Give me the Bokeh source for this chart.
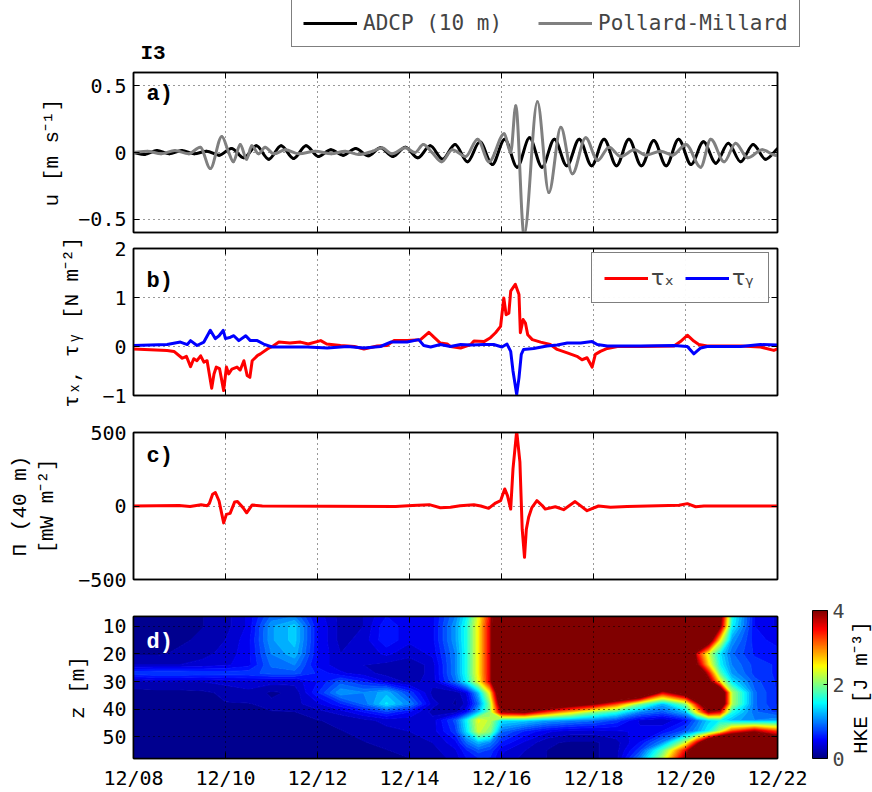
import numpy as np
from bokeh.plotting import figure
from bokeh.layouts import column, row
from bokeh.models import (Range1d, FixedTicker, LinearAxis, Label, Legend, LegendItem,
                          ColorBar, LinearColorMapper)
from bokeh.embed import file_html
from bokeh.resources import INLINE

# ---------------- data ----------------
# time axis: days since 12/08 00:00
date_ticks = [0, 2, 4, 6, 8, 10, 12, 14]
date_labels = ["12/08", "12/10", "12/12", "12/14", "12/16", "12/18", "12/20", "12/22"]

# panel a: u [m s-1]
adcp_t = [0.0, 0.24, 0.51, 0.78, 1.05, 1.32, 1.59, 1.86, 2.13, 2.40,
          2.67, 2.94, 3.21, 3.48, 3.75, 4.02, 4.29, 4.56, 4.83, 5.10,
          5.37, 5.64, 5.91, 6.18, 6.45, 6.72, 6.99, 7.26, 7.53, 7.80,
          8.07, 8.34, 8.61, 8.88, 9.15, 9.42, 9.69, 9.96, 10.23, 10.50,
          10.77, 11.04, 11.31, 11.58, 11.85, 12.12, 12.39, 12.66, 12.93, 13.20,
          13.47, 13.74, 14.0]
adcp_u = [0.0, -0.015, 0.015, -0.01, 0.015, -0.01, 0.01, -0.02, 0.03, -0.04,
          0.05, -0.05, 0.05, -0.045, 0.05, -0.03, 0.02, -0.02, 0.03, -0.025,
          0.035, -0.03, 0.04, -0.04, 0.05, -0.05, 0.06, -0.07, 0.08, -0.09,
          0.10, -0.11, 0.11, -0.11, 0.10, -0.10, 0.10, -0.10, 0.10, -0.10,
          0.10, -0.10, 0.09, -0.10, 0.10, -0.09, 0.08, -0.08, 0.07, -0.07,
          0.06, -0.05, 0.03]
pm_t = [0.0, 0.3, 0.6, 0.9, 1.2, 1.45, 1.67, 1.92, 2.07, 2.17,
        2.32, 2.46, 2.57, 2.72, 2.86, 3.05, 3.3, 3.6, 3.95, 4.3,
        4.6, 4.9, 5.2, 5.4, 5.62, 5.91, 6.12, 6.30, 6.49, 6.70,
        6.93, 7.22, 7.48, 7.73, 8.06, 8.20, 8.31, 8.49, 8.78, 9.03,
        9.29, 9.54, 9.83, 10.09, 10.34, 10.59, 10.89, 11.14, 11.46, 11.72,
        12.01, 12.33, 12.55, 12.84, 13.09, 13.35, 13.67, 13.96, 14.0]
pm_u = [0.0, 0.01, -0.01, 0.015, -0.01, 0.04, -0.12, 0.12, 0.0, -0.07,
        0.06, -0.05, 0.05, -0.01, 0.04, -0.01, 0.02, -0.01, 0.01, -0.01,
        0.01, -0.015, 0.01, 0.035, -0.01, 0.035, 0.0, 0.06, 0.0, -0.07,
        0.02, -0.03, 0.10, -0.07, 0.14, 0.0, 0.35, -0.62, 0.38, -0.30,
        0.19, -0.16, 0.11, -0.06, 0.04, -0.03, 0.02, -0.02, 0.01, -0.02,
        0.06, -0.11, 0.10, -0.07, 0.07, -0.04, 0.02, -0.02, -0.02]

# panel b: wind stress [N m-2]
taux_t = [0.0, 0.73, 0.88, 1.06, 1.15, 1.24, 1.31, 1.38, 1.46, 1.53,
          1.60, 1.70, 1.75, 1.80, 1.87, 1.96, 2.02, 2.07, 2.14, 2.25,
          2.32, 2.40, 2.47, 2.53, 2.58, 2.70, 2.76, 2.91, 3.05, 3.16,
          3.40, 3.63, 3.80, 4.07, 4.20, 4.50, 4.80, 5.01, 5.30, 5.51,
          5.66, 5.95, 6.24, 6.42, 6.53, 6.67, 6.82, 6.89, 7.11, 7.33,
          7.40, 7.62, 7.76, 7.87, 7.98, 8.05, 8.10, 8.16, 8.20, 8.30,
          8.38, 8.41, 8.47, 8.52, 8.57, 8.67, 8.85, 9.06, 9.21, 9.43,
          9.64, 9.75, 9.86, 9.97, 10.04, 10.15, 10.30, 10.52, 11.02, 11.75,
          11.89, 12.04, 12.18, 12.29, 12.47, 13.20, 13.63, 13.92, 14.0]
taux = [-0.05, -0.08, -0.10, -0.24, -0.20, -0.41, -0.25, -0.29, -0.19, -0.32,
        -0.29, -0.85, -0.56, -0.42, -0.45, -0.90, -0.42, -0.56, -0.46, -0.42,
        -0.48, -0.29, -0.59, -0.63, -0.29, -0.18, -0.15, -0.05, 0.02, 0.09,
        0.07, 0.09, 0.05, 0.12, 0.05, 0.02, 0.0, -0.05, 0.01, 0.02,
        0.12, 0.12, 0.14, 0.29, 0.19, 0.07, 0.05, 0.0, -0.03, 0.04,
        0.11, 0.10, 0.18, 0.28, 0.41, 0.99, 0.65, 0.68, 1.13, 1.27,
        1.06, 0.28, 0.55, 0.48, 0.24, 0.14, 0.09, 0.04, -0.06, -0.13,
        -0.20, -0.27, -0.23, -0.42, -0.16, -0.10, -0.04, 0.0, 0.0, 0.01,
        0.10, 0.23, 0.11, 0.04, 0.01, 0.01, -0.01, -0.08, -0.05]
tauy_t = [0.0, 0.73, 1.02, 1.17, 1.24, 1.38, 1.53, 1.67, 1.78, 1.86,
          1.95, 2.00, 2.11, 2.18, 2.29, 2.44, 2.54, 2.69, 2.83, 3.01,
          3.34, 3.78, 4.21, 4.65, 5.01, 5.37, 5.59, 5.95, 6.20, 6.31,
          6.46, 6.67, 6.89, 7.11, 7.33, 7.62, 7.83, 8.01, 8.12, 8.20,
          8.25, 8.33, 8.38, 8.43, 8.48, 8.70, 8.99, 9.21, 9.43, 9.72,
          9.97, 10.08, 10.30, 11.02, 11.75, 12.04, 12.18, 12.33, 12.47, 13.20,
          13.63, 14.0]
tauy = [0.02, 0.04, 0.09, 0.04, 0.12, 0.02, 0.09, 0.33, 0.16, 0.22,
        0.33, 0.16, 0.19, 0.22, 0.12, 0.22, 0.12, 0.12, 0.05, -0.01,
        -0.01, -0.01, -0.03, 0.0, -0.03, 0.0, 0.09, 0.09, 0.14, 0.02,
        -0.01, 0.04, 0.0, 0.04, 0.03, 0.04, 0.04, -0.01, 0.05, -0.10,
        -0.50, -0.98, -0.64, -0.16, -0.06, -0.04, 0.01, 0.03, 0.07, 0.07,
        0.10, 0.04, 0.01, 0.01, 0.02, 0.0, -0.15, -0.03, 0.0, 0.0,
        0.04, 0.03]

# panel c: wind work Pi (40 m) [mW m-2]
pi_t = [0.0, 0.99, 1.23, 1.47, 1.60, 1.65, 1.72, 1.78, 1.86, 1.96,
        2.02, 2.10, 2.20, 2.26, 2.38, 2.46, 2.58, 2.80, 5.70, 6.06,
        6.43, 6.67, 6.89, 7.10, 7.40, 7.55, 7.72, 7.87, 7.98, 8.07,
        8.13, 8.20, 8.25, 8.33, 8.40, 8.45, 8.50, 8.54, 8.59, 8.66,
        8.77, 8.88, 8.95, 9.17, 9.35, 9.60, 9.86, 10.11, 10.37, 10.73,
        11.86, 12.04, 12.22, 12.40, 14.0]
pi_val = [0, 3, -4, 8, 2, 18, 80, 92, 34, -115,
          -57, -50, 28, 30, -11, -46, 7, 0, -4, 4,
          9, -12, -8, 2, 8, 0, -16, 20, 36, 116,
          71, -21, 253, 510, 300, -158, -349, -158, -76, -11,
          36, 5, -21, -5, -25, 30, -32, 0, -8, -4,
          5, 16, -5, 0, 0]

# panel d: HKE [J m-3] on (depth, time) grid
hke_t = [0, 0.5, 1, 1.5, 2, 2.5, 3, 3.5, 4, 4.5, 5, 5.5, 6, 6.5, 7, 7.25, 7.5, 7.75,
         8, 8.5, 9, 9.5, 10, 10.5, 11, 11.5, 12, 12.25, 12.5, 12.75, 13, 13.5, 14]
hke_z = [6.5, 10, 15, 20, 24, 27, 30, 34, 38, 41, 44, 48, 52, 55, 58]
hke_z06 = [0.05,0.05,0.08,0.12,0.2,0.4,0.9,1.0,0.45,0.2, 0.25,0.5,0.4,0.45,1.0,1.5,2.4,3.5,6,6, 6,6,6,6,6,6,6,6,6,4.2, 1.6,0.5,0.35]
hke_z10 = [0.05,0.05,0.08,0.12,0.2,0.4,1.1,1.3,0.5,0.2, 0.25,0.6,0.4,0.45,1.1,1.6,2.5,3.6,6,6, 6,6,6,6,6,6,6,6,6,4.0, 1.5,0.5,0.35]
hke_z15 = [0.06,0.06,0.1,0.15,0.25,0.45,1.1,1.3,0.5,0.2, 0.3,0.6,0.4,0.45,1.1,1.6,2.5,3.6,6,6, 6,6,6,6,6,6,6,6,4.5,2.5, 1.1,0.55,0.45]
hke_z20 = [0.1,0.1,0.15,0.2,0.3,0.45,1.0,1.2,0.5,0.25, 0.3,0.4,0.3,0.4,1.0,1.6,2.5,3.6,6,6, 6,6,6,6,6,6,6,3.5,2.3,1.4, 0.9,0.6,0.55]
hke_z24 = [0.25,0.25,0.25,0.3,0.35,0.45,0.9,1.0,0.45,0.3, 0.25,0.2,0.15,0.3,1.0,1.6,2.5,3.6,6,6, 6,6,6,6,6,6,6,4.0,2.6,1.5, 1.0,0.7,0.6]
hke_z27 = [0.7,0.75,0.75,0.7,0.7,0.7,0.8,0.8,0.6,0.4, 0.3,0.2,0.15,0.3,1.0,1.6,2.5,3.6,6,6, 6,6,6,6,6,6,6,5.0,3.5,1.8, 1.1,0.7,0.6]
hke_z30 = [0.2,0.25,0.25,0.25,0.3,0.35,0.3,0.3,0.5,0.8, 0.6,0.35,0.2,0.3,0.9,1.5,2.4,3.6,6,6, 6,6,6,6,6,6,6,6,4.2,2.5, 1.4,0.8,0.6]
hke_z34 = [0.08,0.08,0.08,0.1,0.15,0.2,0.1,0.15,0.6,1.1, 1.0,1.2,0.7,0.2,0.15,0.4,1.2,2.5,5,6, 6,6,6,6,5.5,3.5,4.5,6,6,5, 2.2,0.9,0.6]
hke_z38 = [0.05,0.05,0.08,0.08,0.12,0.12,0.15,0.2,0.35,0.6, 0.9,1.4,1.0,0.3,0.1,0.3,0.9,2.0,4.5,5.5, 5,4.5,4,3.2,2.0,1.2,2.0,3.5,5,5, 2.2,0.9,0.6]
hke_z41 = [0.05,0.05,0.05,0.08,0.08,0.12,0.12,0.12,0.2,0.3, 0.5,0.7,0.5,0.2,0.2,0.5,1.2,2.0,3.8,4.0, 3.2,2.6,2.0,1.6,1.0,0.8,1.2,2.5,3.8,3.5, 1.6,0.9,0.7]
hke_z44 = [0.05,0.05,0.05,0.05,0.08,0.08,0.12,0.12,0.12,0.15, 0.2,0.3,0.3,0.3,0.8,1.5,2.4,2.2,1.4,1.3, 1.1,1.0,0.9,0.7,0.35,0.25,0.5,0.9,1.3,1.5, 1.2,1.0,1.1]
hke_z48 = [0.05,0.05,0.05,0.05,0.05,0.08,0.08,0.12,0.12,0.12, 0.15,0.2,0.25,0.3,0.7,1.4,2.3,2.0,0.9,0.6, 0.4,0.3,0.3,0.35,0.4,0.5,0.8,1.1,1.5,2.2, 3.2,3.8,3.2]
hke_z52 = [0.05,0.05,0.05,0.05,0.05,0.05,0.08,0.08,0.12,0.12, 0.12,0.15,0.2,0.25,0.45,0.9,1.2,1.0,0.6,0.35, 0.15,0.1,0.1,0.2,0.5,1.0,2.2,3.5,5,6, 6,6,5]
hke_z55 = [0.05,0.05,0.05,0.05,0.05,0.05,0.05,0.08,0.08,0.12, 0.12,0.12,0.15,0.2,0.35,0.6,0.8,0.7,0.4,0.25, 0.12,0.1,0.1,0.2,0.7,1.8,3.5,5,6,6, 6,6,5]
hke_z58 = [0.05,0.05,0.05,0.05,0.05,0.05,0.05,0.05,0.08,0.08, 0.1,0.12,0.12,0.15,0.3,0.5,0.6,0.6,0.35,0.2, 0.12,0.1,0.1,0.2,1.0,2.2,4.0,5,6,6, 6,6,5]
hke_rows = [hke_z06, hke_z10, hke_z15, hke_z20, hke_z24, hke_z27, hke_z30, hke_z34,
            hke_z38, hke_z41, hke_z44, hke_z48, hke_z52, hke_z55, hke_z58]

# ---------------- styling helpers ----------------
TICK_FONT = "DejaVu Sans Mono"
LAB_FONT = "Liberation Mono"


def jet(v):
    v = min(max(v, 0.0), 1.0)
    r = min(max(min(4 * v - 1.5, -4 * v + 4.5), 0.0), 1.0)
    g = min(max(min(4 * v - 0.5, -4 * v + 3.5), 0.0), 1.0)
    b = min(max(min(4 * v + 0.5, -4 * v + 2.5), 0.0), 1.0)
    return "#%02x%02x%02x" % (round(r * 255), round(g * 255), round(b * 255))


def style_axis(ax, ticks, overrides, show):
    ax.ticker = FixedTicker(ticks=ticks)
    ax.major_label_overrides = overrides
    ax.axis_line_color = "black"
    ax.axis_line_width = 1.5
    ax.major_tick_line_color = "black"
    ax.major_tick_line_width = 1
    ax.major_tick_in = 6
    ax.major_tick_out = 0
    ax.minor_tick_line_color = None
    ax.major_label_text_font = TICK_FONT
    ax.major_label_text_font_size = "20px"
    ax.major_label_text_color = "black"
    ax.major_label_standoff = 7 if show else 0


def set_axis_label(ax, text, standoff):
    ax.axis_label = text
    ax.axis_label_text_font = LAB_FONT
    ax.axis_label_text_font_size = "21px"
    ax.axis_label_text_font_style = "normal"
    ax.axis_label_text_color = "black"
    ax.axis_label_standoff = standoff


def make_panel(width, height, right, top, bottom, y_range, yticks, ylabels, show_x):
    p = figure(width=width, height=height, x_range=Range1d(0, 14), y_range=y_range,
               output_backend="svg", toolbar_location=None, title=None,
               min_border_left=133, min_border_right=right,
               min_border_top=top, min_border_bottom=bottom)
    p.add_layout(LinearAxis(), "above")
    p.add_layout(LinearAxis(), "right")
    blank_x = {t: "" for t in date_ticks}
    style_axis(p.below[0], date_ticks,
               dict(zip(date_ticks, date_labels)) if show_x else blank_x, show_x)
    style_axis(p.above[0], date_ticks, blank_x, False)
    style_axis(p.left[0], yticks, dict(zip(yticks, ylabels)), True)
    style_axis(p.right[0], yticks, {t: "" for t in yticks}, False)
    p.xgrid.ticker = FixedTicker(ticks=date_ticks)
    p.ygrid.ticker = FixedTicker(ticks=yticks)
    for g in (p.xgrid, p.ygrid):
        g.grid_line_color = "#333333"
        g.grid_line_dash = "1 4"
        g.grid_line_width = 1
    p.outline_line_color = "black"
    p.outline_line_width = 1.5
    return p


def label_only_axis(text, standoff):
    ax = LinearAxis(ticker=FixedTicker(ticks=[]))
    ax.axis_line_color = None
    ax.major_tick_line_color = None
    ax.minor_tick_line_color = None
    ax.major_label_standoff = 0
    set_axis_label(ax, text, standoff)
    return ax


def add_label(p, text, x, y, size="22px", font=LAB_FONT, align="left",
              baseline="top", color="black", style="bold"):
    p.add_layout(Label(x=x, y=y, x_units="screen", y_units="screen", text=text,
                       text_font=font, text_font_size=size, text_color=color,
                       text_align=align, text_baseline=baseline,
                       text_font_style=style, level="overlay"))


def smooth_curve(p, t, u, color):
    """Draw the series as a smooth curve (cubic Hermite segments rendered as Bezier)."""
    t = np.asarray(t, float)
    u = np.asarray(u, float)
    h = np.diff(t)
    d = np.diff(u) / h
    m = np.zeros_like(u)
    m[0], m[-1] = d[0], d[-1]
    for i in range(1, len(u) - 1):
        if d[i - 1] * d[i] > 0:
            m[i] = 2.0 / (1.0 / d[i - 1] + 1.0 / d[i])
    p.bezier(x0=t[:-1], y0=u[:-1], x1=t[1:], y1=u[1:],
             cx0=t[:-1] + h / 3, cy0=u[:-1] + m[:-1] * h / 3,
             cx1=t[1:] - h / 3, cy1=u[1:] - m[1:] * h / 3,
             line_color=color, line_width=3, line_cap="round")


# ---------------- top strip: legend + station name ----------------
ftop = figure(width=872, height=66, x_range=Range1d(100, 101), y_range=Range1d(100, 101),
              x_axis_type=None, y_axis_type=None, output_backend="svg",
              toolbar_location=None, title=None, min_border=0)
ftop.outline_line_color = None
d_adcp = ftop.line(adcp_t, adcp_u, line_color="black", line_width=3)
d_pm = ftop.line(pm_t, pm_u, line_color="#808080", line_width=3)
leg_a = Legend(items=[LegendItem(label="ADCP (10 m)", renderers=[d_adcp]),
                      LegendItem(label="Pollard-Millard", renderers=[d_pm])],
               orientation="horizontal", location=(291, 19), margin=0, padding=11,
               spacing=36, glyph_width=54, glyph_height=20, label_standoff=6,
               label_height=20, label_text_font=TICK_FONT, label_text_font_size="21px",
               border_line_color="black", border_line_width=1.5)
ftop.add_layout(leg_a)
add_label(ftop, "I3", 140, 2, size="21px", baseline="bottom")

# ---------------- panel a ----------------
pa = make_panel(872, 170, 95, 6, 4, Range1d(-0.6, 0.6), [-0.5, 0, 0.5],
                ["\u22120.5", "0", "0.5"], False)
smooth_curve(pa, adcp_t, adcp_u, "black")
smooth_curve(pa, pm_t, pm_u, "#808080")
add_label(pa, "a)", 13, 151)
set_axis_label(pa.left[0], "u [m s\u207b\u00b9]", 11)

# ---------------- panel b ----------------
pb = make_panel(872, 184, 95, 12, 25, Range1d(-1, 2), [-1, 0, 1, 2],
                ["\u22121", "0", "1", "2"], False)
r_tx = pb.line(taux_t, taux, line_color="#ff0000", line_width=3, line_join="round")
r_ty = pb.line(tauy_t, tauy, line_color="#0000ff", line_width=3, line_join="round")
leg_b = Legend(items=[LegendItem(label="\u03c4\u2093", renderers=[r_tx]),
                      LegendItem(label="\u03c4\u1d67", renderers=[r_ty])],
               orientation="horizontal", location=(458, 92), margin=0, padding=12,
               spacing=10, glyph_width=44, glyph_height=22, label_standoff=3,
               label_width=24, label_height=22, label_text_font="DejaVu Sans",
               label_text_font_size="22px", border_line_color="black", border_line_width=1.5)
pb.add_layout(leg_b)
add_label(pb, "b)", 13, 127)
set_axis_label(pb.left[0], "\u03c4\u2093, \u03c4\u1d67 [N m\u207b\u00b2]", 15)

# ---------------- panel c ----------------
pc = make_panel(872, 180, 95, 12, 21, Range1d(-500, 500), [-500, 0, 500],
                ["\u2212500", "0", "500"], False)
pc.line(pi_t, pi_val, line_color="#ff0000", line_width=3, line_join="round")
add_label(pc, "c)", 13, 136)
set_axis_label(pc.left[0], "[mW m\u207b\u00b2]", 16)
pc.add_layout(label_only_axis("\u03a0 (40 m)", 2), "left")

# ---------------- panel d ----------------
pd_ = make_panel(848, 192, 71, 16, 28, Range1d(57.8, 6.5), [10, 20, 30, 40, 50],
                 ["10", "20", "30", "40", "50"], True)
levels = list(np.linspace(0, 4, 33)) + [100.0]
fill_colors = [jet((levels[i] + levels[i + 1]) / 2 / 4) for i in range(32)] + ["#800000"]
line_colors = [fill_colors[min(i, 32)] for i in range(len(levels))]
pd_.contour(x=hke_t, y=hke_z, z=np.array(hke_rows), levels=levels,
            fill_color=fill_colors, line_color=line_colors, line_width=1.2)
pd_.xgrid.level = "overlay"
pd_.ygrid.level = "overlay"
pd_.xgrid.grid_line_color = "black"
pd_.ygrid.grid_line_color = "black"
mapper = LinearColorMapper(palette=[jet(i / 255) for i in range(256)], low=0, high=4)
cb = ColorBar(color_mapper=mapper, ticker=FixedTicker(ticks=[0, 2, 4]), width=15, height=148,
              location=(35, 0), padding=0, margin=0, bar_line_color="black",
              major_tick_line_color="black", major_tick_in=4, major_tick_out=0,
              major_label_text_font=TICK_FONT, major_label_text_font_size="20px",
              label_standoff=5, background_fill_alpha=0, border_line_color=None)
pd_.add_layout(cb, "right")
add_label(pd_, "d)", 13, 129, color="white")
set_axis_label(pd_.left[0], "z [m]", 9)

# colour-bar title strip (vertical text reading upward)
lh = figure(width=24, height=192, x_range=Range1d(0, 1), y_range=Range1d(0, 1),
            x_axis_type=None, y_axis_type=None, output_backend="svg",
            toolbar_location=None, title=None, min_border_left=0, min_border_right=0,
            min_border_top=16, min_border_bottom=28)
lh.outline_line_color = None
lh.add_layout(label_only_axis("HKE [J m\u207b\u00b3]", 0), "left")

layout = column(row(ftop), pa, pb, pc, row(pd_, lh))
open("out.html", "w").write(file_html(layout, INLINE))
